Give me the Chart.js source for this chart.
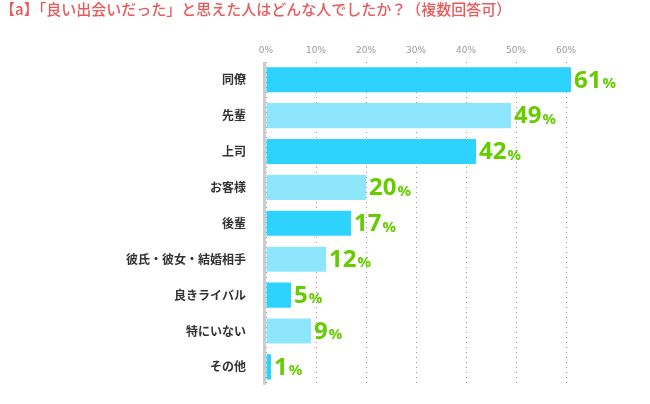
<!DOCTYPE html>
<html>
<head>
<meta charset="utf-8">
<script src="https://cdn.jsdelivr.net/npm/chart.js@4"></script>
<style>
  body { margin: 0; background: #fff; }
  #wrap { width: 650px; height: 404px; }
</style>
</head>
<body>
<div id="wrap"><canvas id="graph"></canvas></div>
<script>
// Categories and percentages
const categories = ["同僚", "先輩", "上司", "お客様", "後輩", "彼氏・彼女・結婚相手", "良きライバル", "特にいない", "その他"];
const percents = [61, 49, 42, 20, 17, 12, 5, 9, 1];
const barColors = ["#2dd2fd", "#8ee6fd"];

// Draws the green value labels after each bar
const valueLabels = {
    id: "valueLabels",
    afterDatasetsDraw(chart) {
        const ctx = chart.ctx;
        const meta = chart.getDatasetMeta(0);
        ctx.save();
        ctx.fillStyle = "#66cc00";
        ctx.textBaseline = "middle";
        meta.data.forEach((bar, i) => {
            const num = String(percents[i]);
            ctx.font = "bold 24px 'Open Sans', sans-serif";
            const x = bar.x + 3;
            ctx.fillText(num, x, bar.y + 1);
            const w = ctx.measureText(num).width;
            ctx.font = "bold 15px 'Open Sans', sans-serif";
            ctx.fillText("%", x + w + 1, bar.y + 4);
        });
        ctx.restore();
    }
};

// Gray left axis line
const leftAxis = {
    id: "leftAxis",
    afterDatasetsDraw(chart) {
        const ctx = chart.ctx;
        const a = chart.chartArea;
        ctx.save();
        ctx.fillStyle = "#cccccc";
        ctx.fillRect(a.left - 3, a.top, 3, a.bottom - a.top);
        ctx.restore();
    }
};

new Chart(document.getElementById("graph"), {
    type: "bar",
    data: {
        labels: categories,
        datasets: [{
            data: percents,
            backgroundColor: percents.map((v, i) => barColors[i % 2]),
            barPercentage: 0.7,
            categoryPercentage: 1
        }]
    },
    options: {
        indexAxis: "y",
        responsive: true,
        maintainAspectRatio: false,
        animation: false,
        layout: { padding: { top: 0, right: 0, bottom: 0, left: 0 } },
        plugins: {
            legend: { display: false },
            tooltip: { enabled: false },
            title: {
                display: true,
                align: "start",
                text: "【a】「良い出会いだった」と思えた人はどんな人でしたか？（複数回答可）",
                color: "#e85a5a",
                font: { size: 15, family: "'Noto Sans CJK JP', sans-serif", weight: "500" },
                padding: { top: 0, bottom: 21 }
            }
        },
        scales: {
            x: {
                position: "top",
                min: 0,
                max: 76.8,
                afterBuildTicks(scale) {
                    scale.ticks = [0, 10, 20, 30, 40, 50, 60].map(v => ({ value: v }));
                },
                ticks: {
                    callback: v => v + "%",
                    color: "#999999",
                    font: { size: 9, family: "'DejaVu Sans', sans-serif" },
                    padding: 6,
                    maxRotation: 0
                },
                grid: {
                    color: "#999999",
                    lineWidth: 1,
                    drawTicks: false,
                    tickBorderDash: [1, 3]
                },
                border: { display: false, dash: [1, 4] }
            },
            y: {
                afterFit(scale) { scale.width = 266; },
                ticks: {
                    color: "#333333",
                    font: { size: 12, weight: "bold", family: "'Noto Sans CJK JP', sans-serif" },
                    padding: 12
                },
                grid: { display: false },
                border: { display: false }
            }
        }
    },
    plugins: [valueLabels, leftAxis]
});
</script>
</body>
</html>
